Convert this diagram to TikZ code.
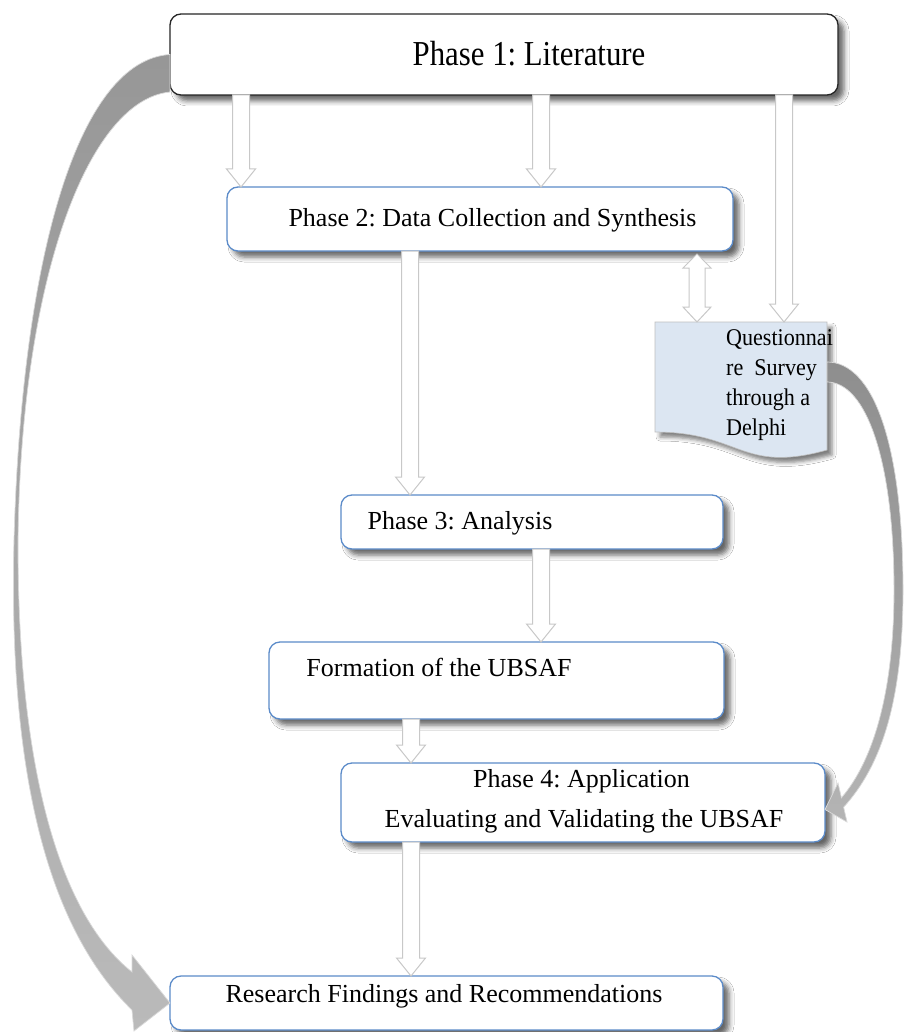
\documentclass[tikz,border=0pt]{standalone}
\usepackage{fontspec}
\usepackage{graphicx}
\setmainfont{Liberation Serif}
\frenchspacing
\usetikzlibrary{calc,shadows.blur}
\definecolor{boxblue}{HTML}{5B8BC9}
\definecolor{docfill}{HTML}{DCE6F2}
\definecolor{arrline}{HTML}{C8C8C8}
\definecolor{ltop}{HTML}{979797}
\definecolor{lbot}{HTML}{BABABA}
\definecolor{rtop}{HTML}{8E8E8E}
\definecolor{rbot}{HTML}{B4B4B4}
\tikzset{
  box/.style={draw=boxblue, line width=1.3pt, rounded corners=11pt, fill=white,
    inner sep=0pt, outer sep=0pt,
    blur shadow={shadow xshift=6pt, shadow yshift=-6pt, shadow blur radius=5pt, shadow opacity=60}},
  blackbox/.style={box, draw=black!85},
  lbl/.style={inner sep=0pt, font=\fontsize{26}{30}\selectfont, anchor=base},
  blockarrow/.style={fill=white, draw=arrline, line width=1pt, line join=miter},
  curvearrow/.style={draw=white!85!black, line width=0.7pt},
  docshape/.style={fill=docfill, draw=black!25, line width=0.6pt,
    blur shadow={shadow xshift=5pt, shadow yshift=-5pt, shadow blur radius=4pt, shadow opacity=50}}
}
% block arrow pointing down: #1 from node, #2 to node, #3 x position
\newcommand\blockdown[3]{%
  \path[blockarrow] let \p1=(#1.south), \p2=(#2.north) in
    (#3pt-8.5pt,\y1) -- (#3pt-8.5pt,\y2+18pt) -- (#3pt-14.5pt,\y2+18pt) -- (#3pt,\y2)
    -- (#3pt+14.5pt,\y2+18pt) -- (#3pt+8.5pt,\y2+18pt) -- (#3pt+8.5pt,\y1) -- cycle;}
% double block arrow
\newcommand\blockboth[3]{%
  \path[blockarrow] let \p1=(#1.south), \p2=(#2.north) in
    (#3pt,\y1-3pt) -- (#3pt+14pt,\y1-17pt) -- (#3pt+8pt,\y1-17pt) -- (#3pt+8pt,\y2+15pt)
    -- (#3pt+14pt,\y2+15pt) -- (#3pt,\y2) -- (#3pt-14pt,\y2+15pt) -- (#3pt-8pt,\y2+15pt)
    -- (#3pt-8pt,\y1-17pt) -- (#3pt-14pt,\y1-17pt) -- cycle;}
\begin{document}
\begin{tikzpicture}[x=1pt,y=-1pt]
\useasboundingbox (0,0) rectangle (905,1032);
\fill[white] (0,0) rectangle (905,1032);

% boxes
\node[blackbox, minimum width=668pt, minimum height=81pt] (p1) at (504,54.5) {};
\node[box, minimum width=506pt, minimum height=64pt] (p2) at (480,219) {};
\node[inner sep=0pt, outer sep=0pt, minimum width=172pt, minimum height=130pt] (q) at (741,387) {};
\path[docshape] (q.north west) -- (q.north east) -- ($(q.north east)+(0,128)$)
   .. controls ($(q.north)+(0,152)$) and ($(q.north)+(0,110)$) .. ($(q.north west)+(0,110)$) -- cycle;
\node[box, minimum width=382pt, minimum height=54pt] (p3) at (532,522) {};
\node[box, minimum width=455pt, minimum height=77pt] (f) at (496.5,680.5) {};
\node[box, minimum width=484pt, minimum height=79pt] (p4) at (583,802.5) {};
\node[box, minimum width=553pt, minimum height=54pt] (r) at (446.5,1003) {};

% texts
\node[inner sep=0pt, anchor=base] (t1) at (529,66)
  {\scalebox{0.88}[1]{\fontsize{35}{40}\selectfont Phase 1: Literature}};
\node[lbl] (t2) at (492.5,226) {Phase 2: Data Collection and Synthesis};
\node[inner sep=0pt, anchor=north west] (tq) at (726,324)
  {\fontsize{24}{30}\selectfont\scalebox{0.92}[1]{\begin{tabular}{@{}l@{}}Questionnai\\re\ \ Survey\\through a\\Delphi\end{tabular}}};
\node[lbl] (t3) at (460,529) {Phase 3: Analysis};
\node[lbl] (tf) at (439,676) {Formation of the UBSAF};
\node[lbl] (t4a) at (581.5,787) {Phase 4: Application};
\node[lbl] (t4b) at (584,827) {Evaluating and Validating the UBSAF};
\node[lbl] (tr) at (444,1002) {Research Findings and Recommendations};

% block arrows
\blockdown{p1}{p2}{241}
\blockdown{p1}{p2}{541}
\blockdown{p1}{q}{784}
\blockboth{p2}{q}{697}
\blockdown{p2}{p3}{410}
\blockdown{p3}{f}{541}
\blockdown{f}{p4}{411}
\blockdown{p4}{r}{411}

% left curved arrow: Phase 1 -> Research Findings
\path[curvearrow, top color=ltop, bottom color=lbot]
  (p1.west) .. controls (80,60) and (22,250) .. (14,540)
  .. controls (8,780) and (50,930) .. (132,1010)
  -- (134,1031) -- (r.west) -- (132,955) -- (132,972)
  .. controls (60,915) and (18,770) .. (18,545)
  .. controls (20,280) and (88,100) .. ($(p1.south west)+(0,-3)$) -- cycle;

% right curved arrow: Questionnaire -> Phase 4
\path[curvearrow, top color=rtop, bottom color=rbot]
  ($(q.east)+(0,-25)$) .. controls (872,362) and (903,440) .. (903,590)
  .. controls (903,700) and (882,765) .. (843.6,807.2)
  -- (847,822) -- ($(p4.east)+(0,7)$) -- (838,783) -- (841.4,797.8)
  .. controls (874,760) and (894,690) .. (894,590)
  .. controls (894,460) and (866,382) .. ($(q.east)+(0,-5)$) -- cycle;
\end{tikzpicture}
\end{document}
